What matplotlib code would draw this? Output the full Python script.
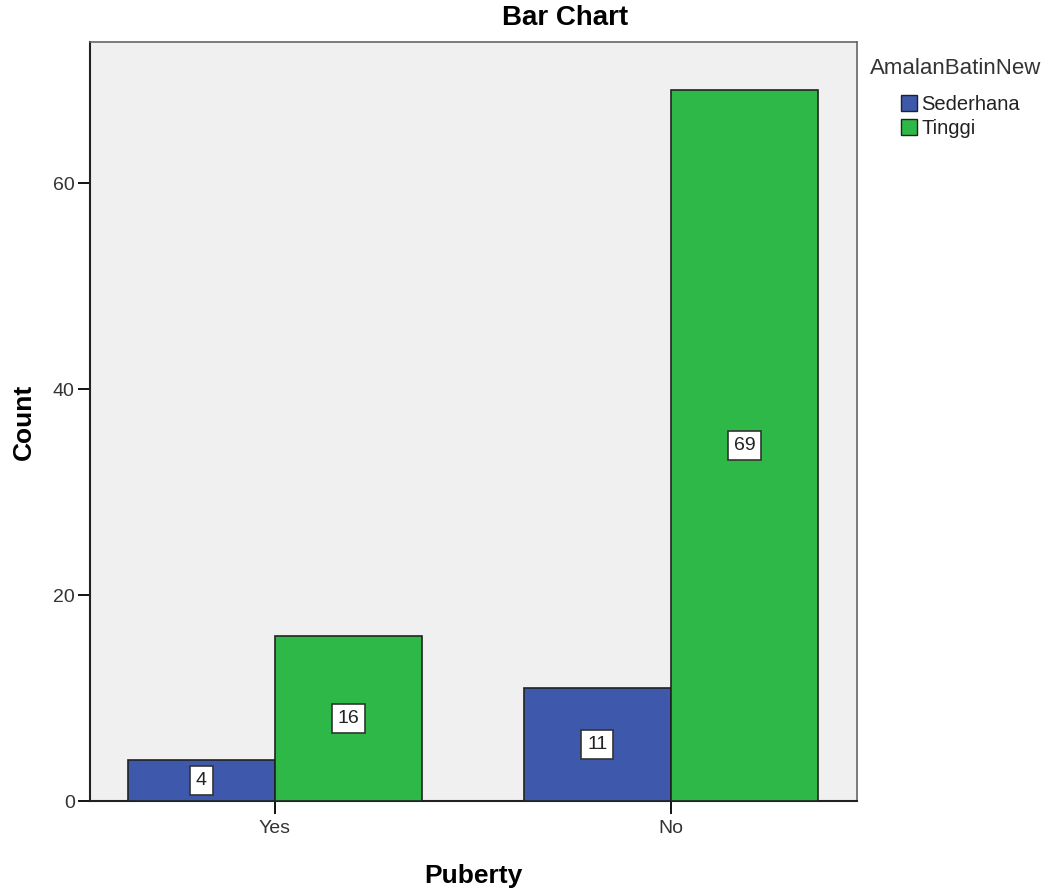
import numpy as np
import matplotlib
matplotlib.use("Agg")
from matplotlib import pyplot as plt
from matplotlib.patches import Patch

plt.rcParams['font.family'] = ['Liberation Sans', 'DejaVu Sans']

# Data
categories = ["Yes", "No"]
groups = ["Sederhana", "Tinggi"]
sederhana = [4, 11]
tinggi = [16, 69]
colors = ["#3E58AC", "#2EB848"]

fig = plt.figure(figsize=(10.58, 8.9), dpi=100)
ax = fig.add_axes([0.085, 0.1, 0.725, 0.8528])
ax.set_facecolor("#F0F0F0")

x = np.arange(len(categories))
w = 0.371
series = [sederhana, tinggi]
offsets = [-w / 2, w / 2]
for vals, off, col in zip(series, offsets, colors):
    bars = ax.bar(x + off, vals, width=w, color=col, edgecolor="#222222", linewidth=1.2, zorder=3)
    for b, v in zip(bars, vals):
        ax.text(b.get_x() + b.get_width() / 2, v / 2, str(v), ha="center", va="center",
                fontsize=14, color="#222222", zorder=4,
                bbox=dict(boxstyle="square,pad=0.3", facecolor="white", edgecolor="#333333", linewidth=1.2))

ax.set_xlim(-0.467, 1.470)
ax.set_ylim(0, 73.7)
ax.set_xticks(x)
ax.set_xticklabels(categories)
ax.set_yticks([0, 20, 40, 60])
ax.tick_params(axis="both", direction="out", length=9, width=1.3, pad=2,
               labelsize=14, labelcolor="#333333")
ax.tick_params(axis="x", pad=5)

for s in ["top", "right"]:
    ax.spines[s].set_color("#666666")
    ax.spines[s].set_linewidth(1.2)
for s in ["left", "bottom"]:
    ax.spines[s].set_color("#222222")
    ax.spines[s].set_linewidth(1.5)

fig.text(565 / 1058, 1 - 18 / 890, "Bar Chart", ha="center", va="center",
         fontsize=20, fontweight="bold")
ax.set_ylabel("Count", fontsize=19, fontweight="bold", labelpad=12)
ax.set_xlabel("Puberty", fontsize=19, fontweight="bold", labelpad=19)

# legend
fig.text(870 / 1058, 1 - 68 / 890, "AmalanBatinNew", ha="left", va="center",
         fontsize=16, color="#333333")
handles = [Patch(facecolor=c, edgecolor="#222222", label=g) for c, g in zip(colors, groups)]
leg = fig.legend(handles=handles, loc="upper left",
                 bbox_to_anchor=(901 / 1058, 1 - 95 / 890), frameon=False, fontsize=14.5,
                 handlelength=0.8, handleheight=0.8, borderpad=0, borderaxespad=0,
                 handletextpad=0.2, labelspacing=0.25)
for t in leg.get_texts():
    t.set_color("#222222")

fig.savefig("out.png", dpi=100)
